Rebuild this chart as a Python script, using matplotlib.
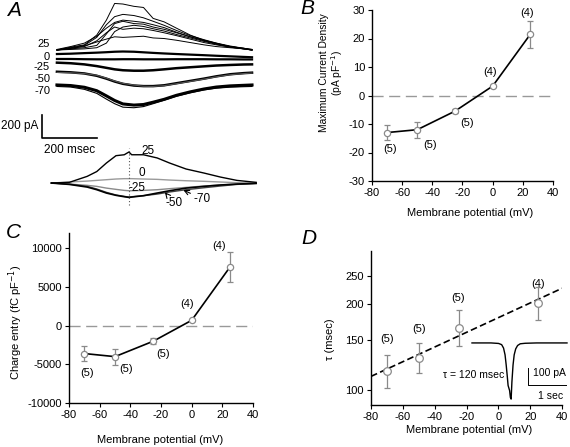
import numpy as np
import matplotlib.pyplot as plt
from matplotlib.ticker import NullLocator

plt.rcParams['font.family'] = ['Liberation Sans', 'DejaVu Sans']
plt.rcParams['font.size'] = 8
plt.rcParams['axes.unicode_minus'] = False

# ---- panel B/C/D summary data
vm = [-70, -50, -25, 0, 25]
n_cells = [5, 5, 5, 4, 4]
density = [-13.0, -12.0, -5.5, 3.3, 21.5]
density_err = [2.7, 2.8, 0.8, 0.4, 4.7]
charge = [-3600, -4000, -2000, 700, 7600]
charge_err = [1000, 1050, 400, 150, 1900]
tau_vm = [-70, -50, -25, 25]
tau = [117, 130, 165, 202]
tau_lo = [102, 115, 143, 176]
tau_hi = [133, 146, 190, 228]
tau_n = [5, 5, 5, 4]

# ---- panel A raw traces (ms, pA relative to each group's baseline)
t_raw = [0, 50, 100, 145, 180, 210, 240, 280, 315, 350, 390, 435, 485, 535, 580, 630, 680, 710]
raw_25 = [
    [0, 25, 45, 130, 260, 405, 400, 380, 370, 275, 245, 190, 130, 85, 60, 30, 15, 0],
    [0, 20, 40, 110, 220, 290, 310, 300, 280, 250, 215, 170, 125, 90, 60, 35, 15, 5],
    [5, 30, 60, 120, 190, 240, 260, 250, 240, 220, 195, 155, 115, 85, 55, 30, 15, 5],
    [0, 10, 20, 40, 140, 230, 250, 230, 225, 200, 180, 150, 115, 80, 55, 30, 10, 0],
    [0, 5, 10, 20, 60, 160, 200, 215, 205, 185, 165, 135, 105, 75, 50, 25, 10, 0],
    [0, 15, 35, 70, 95, 115, 110, 115, 120, 105, 100, 85, 65, 45, 30, 20, 10, 0],
    [0, 15, 30, 80, 150, 200, 180, 190, 185, 170, 150, 125, 95, 65, 45, 25, 10, 0],
]
raw_0a = [0, 3, 8, 12, 16, 20, 22, 20, 15, 10, 5, 0, -5, -10, -15, -20, -25, -28]
raw_0b = [0, 0, -2, -3, -3, -3, -2, -2, -3, -3, -3, -2, -2, -2, -3, -3, -4, -4]
raw_m25 = [0, -5, -15, -30, -45, -58, -66, -70, -70, -66, -58, -48, -40, -32, -25, -20, -16, -15]
raw_m50 = [0, -5, -15, -35, -60, -85, -105, -120, -125, -125, -118, -100, -80, -60, -40, -22, -12, -8]
raw_m50b = [0, -3, -10, -25, -50, -75, -95, -110, -120, -122, -115, -98, -78, -58, -38, -20, -10, -5]
raw_m70 = [0, -5, -20, -50, -95, -135, -165, -175, -170, -150, -125, -90, -60, -35, -18, -8, -3, 0]
raw_m70b = [0, -5, -25, -60, -110, -150, -180, -185, -175, -150, -120, -85, -55, -30, -15, -6, -2, 0]

# ---- panel A averaged traces
t_avg = [-20, 45, 110, 145, 180, 215, 245, 262, 272, 315, 365, 410, 470, 535, 595, 655, 725]
avg_25 = [0, 6, 58, 100, 174, 238, 246, 270, 246, 246, 218, 174, 122, 87, 52, 23, 6]
avg_0 = [0, 9, 17, 23, 29, 35, 38, 38, 38, 35, 32, 26, 20, 15, 9, 3, 0]
avg_m25 = [0, -9, -20, -29, -44, -55, -64, -67, -67, -64, -58, -49, -38, -26, -17, -9, -3]
avg_m50 = [0, -12, -35, -58, -87, -107, -119, -125, -122, -110, -87, -67, -44, -29, -17, -9, -3]
avg_m70 = [0, -9, -29, -52, -81, -104, -116, -122, -119, -110, -96, -78, -58, -41, -26, -12, -3]

# ---- panel D inset trace (s, pA)
t_inset = [0, 0.5, 0.7, 0.78, 0.83, 0.87, 0.9, 0.93, 0.95, 0.97, 0.99, 1.01, 1.03,
           1.05, 1.08, 1.11, 1.15, 1.2, 1.27, 1.4, 1.7, 2.0, 2.5]
i_inset = [0, 0, -3, -10, -30, -70, -130, -200, -250, -265, -280, -320, -330,
           -230, -130, -70, -35, -15, -5, -2, 0, 0, 0]

W, H = 570, 447
fig = plt.figure(figsize=(W / 100, H / 100), dpi=100)


def box(x0, y0, x1, y1):
    return [x0 / W, 1 - y1 / H, (x1 - x0) / W, (y1 - y0) / H]


GREY = '#8a8a8a'


def style(ax):
    for s in ['top', 'right']:
        ax.spines[s].set_visible(False)
    for s in ['left', 'bottom']:
        ax.spines[s].set_linewidth(1.0)
    ax.tick_params(direction='out', length=3, width=0.8, labelsize=8, pad=2)


# ================= A
axA = fig.add_axes(box(30, 0, 260, 215))
axA.set_xlim(-98, 739)
axA.set_ylim(-278, 1592)
axA.axis('off')

for tr in raw_25:
    axA.plot(t_raw, np.array(tr) + 1157, color='k', lw=0.7)
axA.plot(t_raw, np.array(raw_0a) + 1122, color='k', lw=1.6)
axA.plot(t_raw, np.array(raw_0b) + 1079, color='k', lw=1.6)
axA.plot(t_raw, np.array(raw_m25) + 1047, color='k', lw=1.8)
axA.plot(t_raw, np.array(raw_m50) + 968, color='k', lw=1.8)
axA.plot(t_raw, np.array(raw_m50b) + 962, color='#555555', lw=0.8)
axA.plot(t_raw, np.array(raw_m70) + 853, color='k', lw=2.2)
axA.plot(t_raw, np.array(raw_m70b) + 840, color='k', lw=0.8)

for lab, yy in zip(['25', '0', '-25', '-50', '-70'], [1205, 1098, 1005, 905, 800]):
    axA.text(-25, yy, lab, ha='right', va='center', fontsize=8)

# scale bar
axA.plot([-55, -55, 145], [592, 392, 392], color='k', lw=1.2)
axA.text(-66, 496, '200 pA', ha='right', va='center', fontsize=8.5)
axA.text(47, 287, '200 msec', ha='center', va='center', fontsize=8.5)

# averaged traces
axA.plot(t_avg, avg_0, color='#9a9a9a', lw=1.0)
axA.plot(t_avg, avg_m25, color='#8a8a8a', lw=1.0)
axA.plot(t_avg, avg_m70, color='#444444', lw=1.0)
axA.plot(t_avg, avg_m50, color='k', lw=1.2)
axA.plot(t_avg, avg_25, color='k', lw=1.0)
axA.plot([262, 262], [-191, 305], color='#555555', lw=0.8, ls=(0, (1, 2)))
axA.text(331, 278, '25', ha='center', va='center', fontsize=8.5)
axA.text(308, 90, '0', ha='center', va='center', fontsize=8.5)
axA.text(291, -45, '-25', ha='center', va='center', fontsize=8.5)
axA.annotate('-50', xy=(393, -81), xytext=(426, -175), ha='center', va='center', fontsize=8.5,
             arrowprops=dict(arrowstyle='->', lw=0.8, color='k', shrinkA=4, shrinkB=0))
axA.annotate('-70', xy=(460, -61), xytext=(527, -135), ha='center', va='center', fontsize=8.5,
             arrowprops=dict(arrowstyle='->', lw=0.8, color='k', shrinkA=6, shrinkB=0))


def summary(ax, x, y, yerr, ns, offs):
    ax.plot(x, y, color='k', lw=1.2, zorder=2)
    ax.errorbar(x, y, yerr=yerr, fmt='o', ms=4.5, mfc='white', mec=GREY, mew=0.9,
                ecolor=GREY, elinewidth=0.9, capsize=2, capthick=0.9, zorder=3)
    for xi, yi, n, (dx, dy) in zip(x, y, ns, offs):
        ax.text(xi + dx, yi + dy, '(%d)' % n, ha='center', va='center', fontsize=8)


# ================= B
axB = fig.add_axes(box(372, 10, 553, 181))
style(axB)
axB.axhline(0, color='#999999', lw=1.0, dashes=(8, 4), zorder=1)
summary(axB, vm, density, density_err, n_cells,
        [(2, -5.8), (8.5, -5.4), (7.8, -4.3), (-1.8, 5.1), (-2.2, 7.3)])
axB.set_xlim(-80, 40)
axB.set_ylim(-30, 30)
axB.set_xticks(range(-80, 41, 20))
axB.set_yticks(range(-30, 31, 10))
axB.set_xlabel('Membrane potential (mV)', fontsize=8)
axB.set_ylabel('Maximum Current Density\n(pA pF$^{-1}$)', fontsize=7.4, linespacing=1.05)
axB.xaxis.set_label_coords(0.54, -0.158)
axB.yaxis.set_label_coords(-0.149, 0.635)

# ================= C
axC = fig.add_axes(box(69, 233, 253, 403))
style(axC)
axC.axhline(0, color='#999999', lw=1.0, dashes=(8, 4), zorder=1)
summary(axC, vm, charge, charge_err, n_cells,
        [(2, -2490), (7.2, -1650), (6.5, -1670), (-3.2, 2080), (-7, 2660)])
axC.set_xlim(-80, 40)
axC.set_ylim(-10000, 12000)
axC.set_xticks(range(-80, 41, 20))
axC.set_yticks(range(-10000, 10001, 5000))
axC.set_xlabel('Membrane potential (mV)', fontsize=8)
axC.set_ylabel('Charge entry (fC pF$^{-1}$)', fontsize=8)
axC.xaxis.set_label_coords(0.495, -0.188)
axC.yaxis.set_label_coords(-0.239, 0.476)

# ================= D
axD = fig.add_axes(box(371, 251, 562, 405))
style(axD)
axD.set_yscale('log')
k, b = np.polyfit(tau_vm, np.log(tau), 1)
xf = np.array([-80, 40])
axD.plot(xf, np.exp(k * xf + b), color='k', lw=1.2, dashes=(4, 2), zorder=2)
tau_a = np.array(tau)
axD.errorbar(tau_vm, tau, yerr=[tau_a - np.array(tau_lo), np.array(tau_hi) - tau_a],
             fmt='o', ms=5.5, mfc='white', mec=GREY, mew=0.9, ecolor=GREY,
             elinewidth=0.9, capsize=2, capthick=0.9, zorder=3)
for xi, n, yy in zip(tau_vm, tau_n, [151, 164, 209, 235]):
    axD.text(xi, yy, '(%d)' % n, ha='center', va='center', fontsize=8)
axD.set_xlim(-80, 40)
axD.set_ylim(89, 305)
axD.set_xticks(range(-80, 41, 20))
axD.set_yticks([100, 150, 200, 250])
axD.set_yticklabels(['100', '150', '200', '250'])
axD.yaxis.set_minor_locator(NullLocator())
axD.set_xlabel('Membrane potential (mV)', fontsize=8)
axD.set_ylabel('τ (msec)', fontsize=8)
axD.xaxis.set_label_coords(0.513, -0.13)
axD.yaxis.set_label_coords(-0.188, 0.43)

# inset trace
axI = fig.add_axes(box(440, 330, 570, 410))
axI.set_xlim(-0.842, 2.579)
axI.set_ylim(-394, 76)
axI.axis('off')
axI.plot(t_inset, i_inset, color='k', lw=1.0)
axI.plot([1.474, 1.474, 2.474], [-147, -247, -247], color='k', lw=0.7)
axI.text(0.04, -188, 'τ = 120 msec', ha='center', va='center', fontsize=7.5)
axI.text(1.6, -176, '100 pA', ha='left', va='center', fontsize=7.5)
axI.text(2.08, -312, '1 sec', ha='center', va='center', fontsize=7.5)

# panel letters
for lab, (px, py) in zip('ABCD', [(14, 11), (307, 9), (13, 233), (309, 239)]):
    fig.text(px / W, 1 - py / H, lab, fontsize=15, style='italic', ha='center', va='center')

fig.savefig('out.png', dpi=100)
